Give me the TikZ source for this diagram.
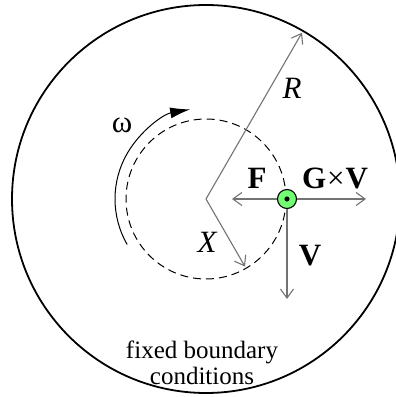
\documentclass[tikz,border=0pt]{standalone}
\usepackage{fontspec}
\setmainfont{Liberation Serif}
\usetikzlibrary{arrows.meta,calc}
\tikzset{
  wall/.style={draw, line width=1.8pt},
  orbit/.style={draw, dashed, dash pattern=on 8pt off 5pt, line width=1pt},
  vec/.style={draw=black!55, line width=1.1pt, -{Straight Barb[length=9pt,width=13pt]}},
  spin/.style={line width=1pt, -{Latex[length=20pt,width=11pt]}},
  particle/.style={circle, draw, line width=1.1pt, fill=green!55!white, minimum size=19pt, inner sep=0pt},
  lbl/.style={inner sep=0pt, font=\fontsize{31}{33}\selectfont},
  note/.style={inner sep=0pt, align=center, font=\fontsize{25}{26.5}\selectfont}
}

\begin{document}
\begin{tikzpicture}[x=1pt,y=1pt]
\clip (0,0) rectangle (396,397);

% ---------- Container and orbit ----------
\coordinate (O) at (206,198);
\draw[wall] (O) circle[radius=194];
\draw[orbit] (O) circle[radius=80];

% ---------- Rotation ----------
\coordinate (w0) at ($(O)+(210:91)$);
\draw[spin] (w0) arc[start angle=210, end angle=100, radius=91];
\node[lbl] (omega) at (122,272) {ω};

% ---------- Radii ----------
\coordinate (Rtip) at ($(O)+(60:192)$);
\coordinate (Xtip) at ($(O)+(-60:78)$);
\draw[vec] (O) -- (Rtip);
\draw[vec] (O) -- (Xtip);
\node[lbl] (R) at (292,309) {\itshape R};
\node[lbl] (X) at (207,155) {\itshape X};

% ---------- Particle and forces ----------
\node[particle] (part) at ($(O)+(81,0)$) {};
\coordinate (Ftip) at ($(part)+(-55,0)$);
\coordinate (Gtip) at ($(part)+(79,0)$);
\coordinate (Vtip) at ($(part)+(0,-100)$);
\draw[vec] (part) -- (Ftip);
\draw[vec] (part) -- (Gtip);
\draw[vec] (part) -- (Vtip);
\fill (part) circle[radius=2.6];
\node[lbl] (F) at (257,219) {\textbf{F}};
\node[lbl] (GxV) at (335,219) {\textbf{G}\kern1pt×\kern1pt\textbf{V}};
\node[lbl] (V) at (310,141) {\textbf{V}};

% ---------- Boundary ----------
\node[note] (bc) at (202,34) {fixed boundary\\conditions};

\end{tikzpicture}
\end{document}
